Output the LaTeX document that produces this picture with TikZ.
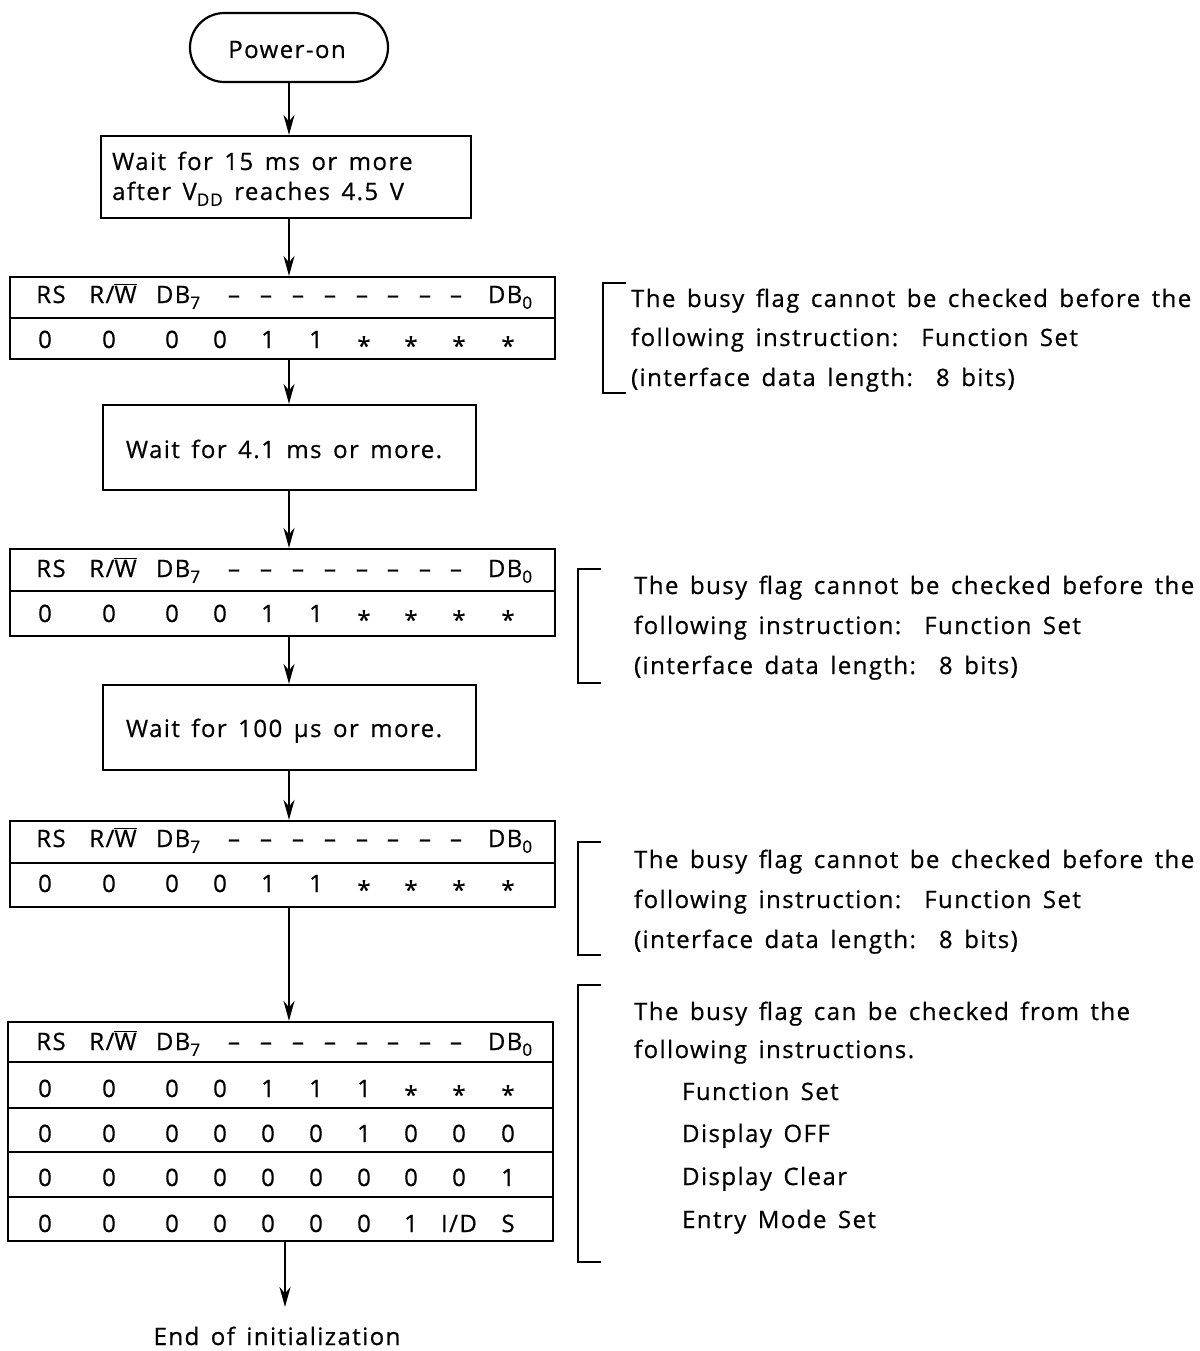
\documentclass[tikz,border=0pt]{standalone}
\usepackage{fontspec}
\setmainfont[LetterSpace=6,WordSpace=1.5,FakeBold=0.6]{Open Sans}
\usetikzlibrary{arrows.meta,shapes.misc}
\newcommand\dsub[1]{\raisebox{-0.45ex}{\fontsize{17}{17}\selectfont #1}}
\newcommand\st{\raisebox{-0.5ex}{*}}
\newcommand\rw{R/$\overline{\hbox{W}}$}
\newcommand\tabhead[2]{%
  \node[txt] (#1rs) at (51,#2) {RS};
  \node[txt] (#1rw) at (113,#2) {\rw};
  \node[txt] (#1dseven) at (178,#2) {DB\dsub{7}};
  \foreach \xx [count=\ii] in {234,266,298,330,362,393,425,456}
    \node[txt] (#1da\ii) at (\xx,#2) {–};
  \node[txt] (#1dzero) at (510,#2) {DB\dsub{0}};
}
\newcommand\tabrow[3]{%
  \foreach \vv [count=\ii] in {#3} {
    \pgfmathsetmacro\cx{{45,109,172,220,268,316,364,411,459,508}[\ii-1]}
    \node[txt] (#1c\ii) at (\cx,#2) {\vv};
  }
}
\begin{document}
\begin{tikzpicture}[x=1pt,y=-1pt,line width=2.2pt,
  every node/.style={font=\fontsize{24}{28}\selectfont, inner sep=0pt},
  txt/.style={anchor=base},
  ltxt/.style={anchor=base west},
  box/.style={draw, rectangle},
  arr/.style={-{Stealth[length=20pt,width=11pt]}},
  brk/.style={line width=2pt},
]
\useasboundingbox (0,0) rectangle (1199,1351);

% start
\node[draw, rounded rectangle, minimum width=198pt, minimum height=69pt] (pwr) at (289,47.5) {};
\node[txt] (pwrt) at (287,58) {Power-on};

% box 1
\node[box, minimum width=370pt, minimum height=82pt] (w1) at (286,177) {};
\node[ltxt] (w1a) at (111,170) {Wait for 15 ms or more};
\node[ltxt] (w1b) at (111,200) {after V\dsub{DD} reaches 4.5 V};

% table 1
\node[box, minimum width=545pt, minimum height=82pt] (t1) at (282.5,318) {};
\draw (10,318) -- (555,318);
\tabhead{ta}{303}
\tabrow{ta}{348}{0,0,0,0,1,1,\st,\st,\st,\st}

% box 2
\node[box, minimum width=373pt, minimum height=85pt] (w2) at (289.5,447.5) {};
\node[txt] (w2t) at (284,458) {Wait for 4.1 ms or more.};

% table 2
\node[box, minimum width=545pt, minimum height=87pt] (t2) at (282.5,592.5) {};
\draw (10,591) -- (555,591);
\tabhead{tb}{577}
\tabrow{tb}{622}{0,0,0,0,1,1,\st,\st,\st,\st}

% box 3
\node[box, minimum width=373pt, minimum height=85pt] (w3) at (289.5,727.5) {};
\node[txt] (w3t) at (284,737) {Wait for 100 µs or more.};

% table 3
\node[box, minimum width=545pt, minimum height=86pt] (t3) at (282.5,864) {};
\draw (10,863) -- (555,863);
\tabhead{tc}{847}
\tabrow{tc}{892}{0,0,0,0,1,1,\st,\st,\st,\st}

% table 4
\node[box, minimum width=545pt, minimum height=219pt] (t4) at (280.5,1131.5) {};
\draw (8,1062) -- (553,1062);
\draw (8,1108) -- (553,1108);
\draw (8,1152) -- (553,1152);
\draw (8,1197) -- (553,1197);
\tabhead{td}{1050}
\tabrow{tda}{1097}{0,0,0,0,1,1,1,\st,\st,\st}
\tabrow{tdb}{1142}{0,0,0,0,0,0,1,0,0,0}
\tabrow{tdc}{1186}{0,0,0,0,0,0,0,0,0,1}
\tabrow{tdd}{1232}{0,0,0,0,0,0,0,1,I/D,S}

% end
\node[txt] (endt) at (277,1345) {End of initialization};
\coordinate (endtop) at (285,1307);

% arrows
\draw[arr] (pwr.south) -- (pwr.south |- w1.north);
\draw[arr] (pwr.south |- w1.south) -- (pwr.south |- t1.north);
\draw[arr] (pwr.south |- t1.south) -- (pwr.south |- w2.north);
\draw[arr] (pwr.south |- w2.south) -- (pwr.south |- t2.north);
\draw[arr] (pwr.south |- t2.south) -- (pwr.south |- w3.north);
\draw[arr] (pwr.south |- w3.south) -- (pwr.south |- t3.north);
\draw[arr] (pwr.south |- t3.south) -- (pwr.south |- t4.north);
\draw[arr] (endtop |- t4.south) -- (endtop);

% bracket 1
\draw[brk] (626,283) -- (603,283) -- (603,393) -- (626,393);
\node[ltxt] (n1a) at (630,307) {The busy flag cannot be checked before the};
\node[ltxt] (n1b) at (630,346) {following instruction:\ \ Function Set};
\node[ltxt] (n1c) at (630,386) {(interface data length:\ \ 8 bits)};

% bracket 2
\draw[brk] (601,569) -- (578,569) -- (578,683) -- (601,683);
\node[ltxt] (n2a) at (633,594) {The busy flag cannot be checked before the};
\node[ltxt] (n2b) at (633,634) {following instruction:\ \ Function Set};
\node[ltxt] (n2c) at (633,674) {(interface data length:\ \ 8 bits)};

% bracket 3
\draw[brk] (601,842) -- (578,842) -- (578,955) -- (601,955);
\node[ltxt] (n3a) at (633,868) {The busy flag cannot be checked before the};
\node[ltxt] (n3b) at (633,908) {following instruction:\ \ Function Set};
\node[ltxt] (n3c) at (633,948) {(interface data length:\ \ 8 bits)};

% bracket 4
\draw[brk] (601,985) -- (578,985) -- (578,1262) -- (601,1262);
\node[ltxt] (n4a) at (633,1020) {The busy flag can be checked from the};
\node[ltxt] (n4b) at (633,1058) {following instructions.};
\node[ltxt] (n4c) at (681,1100) {Function Set};
\node[ltxt] (n4d) at (681,1142) {Display OFF};
\node[ltxt] (n4e) at (681,1185) {Display Clear};
\node[ltxt] (n4f) at (681,1228) {Entry Mode Set};
\end{tikzpicture}
\end{document}
